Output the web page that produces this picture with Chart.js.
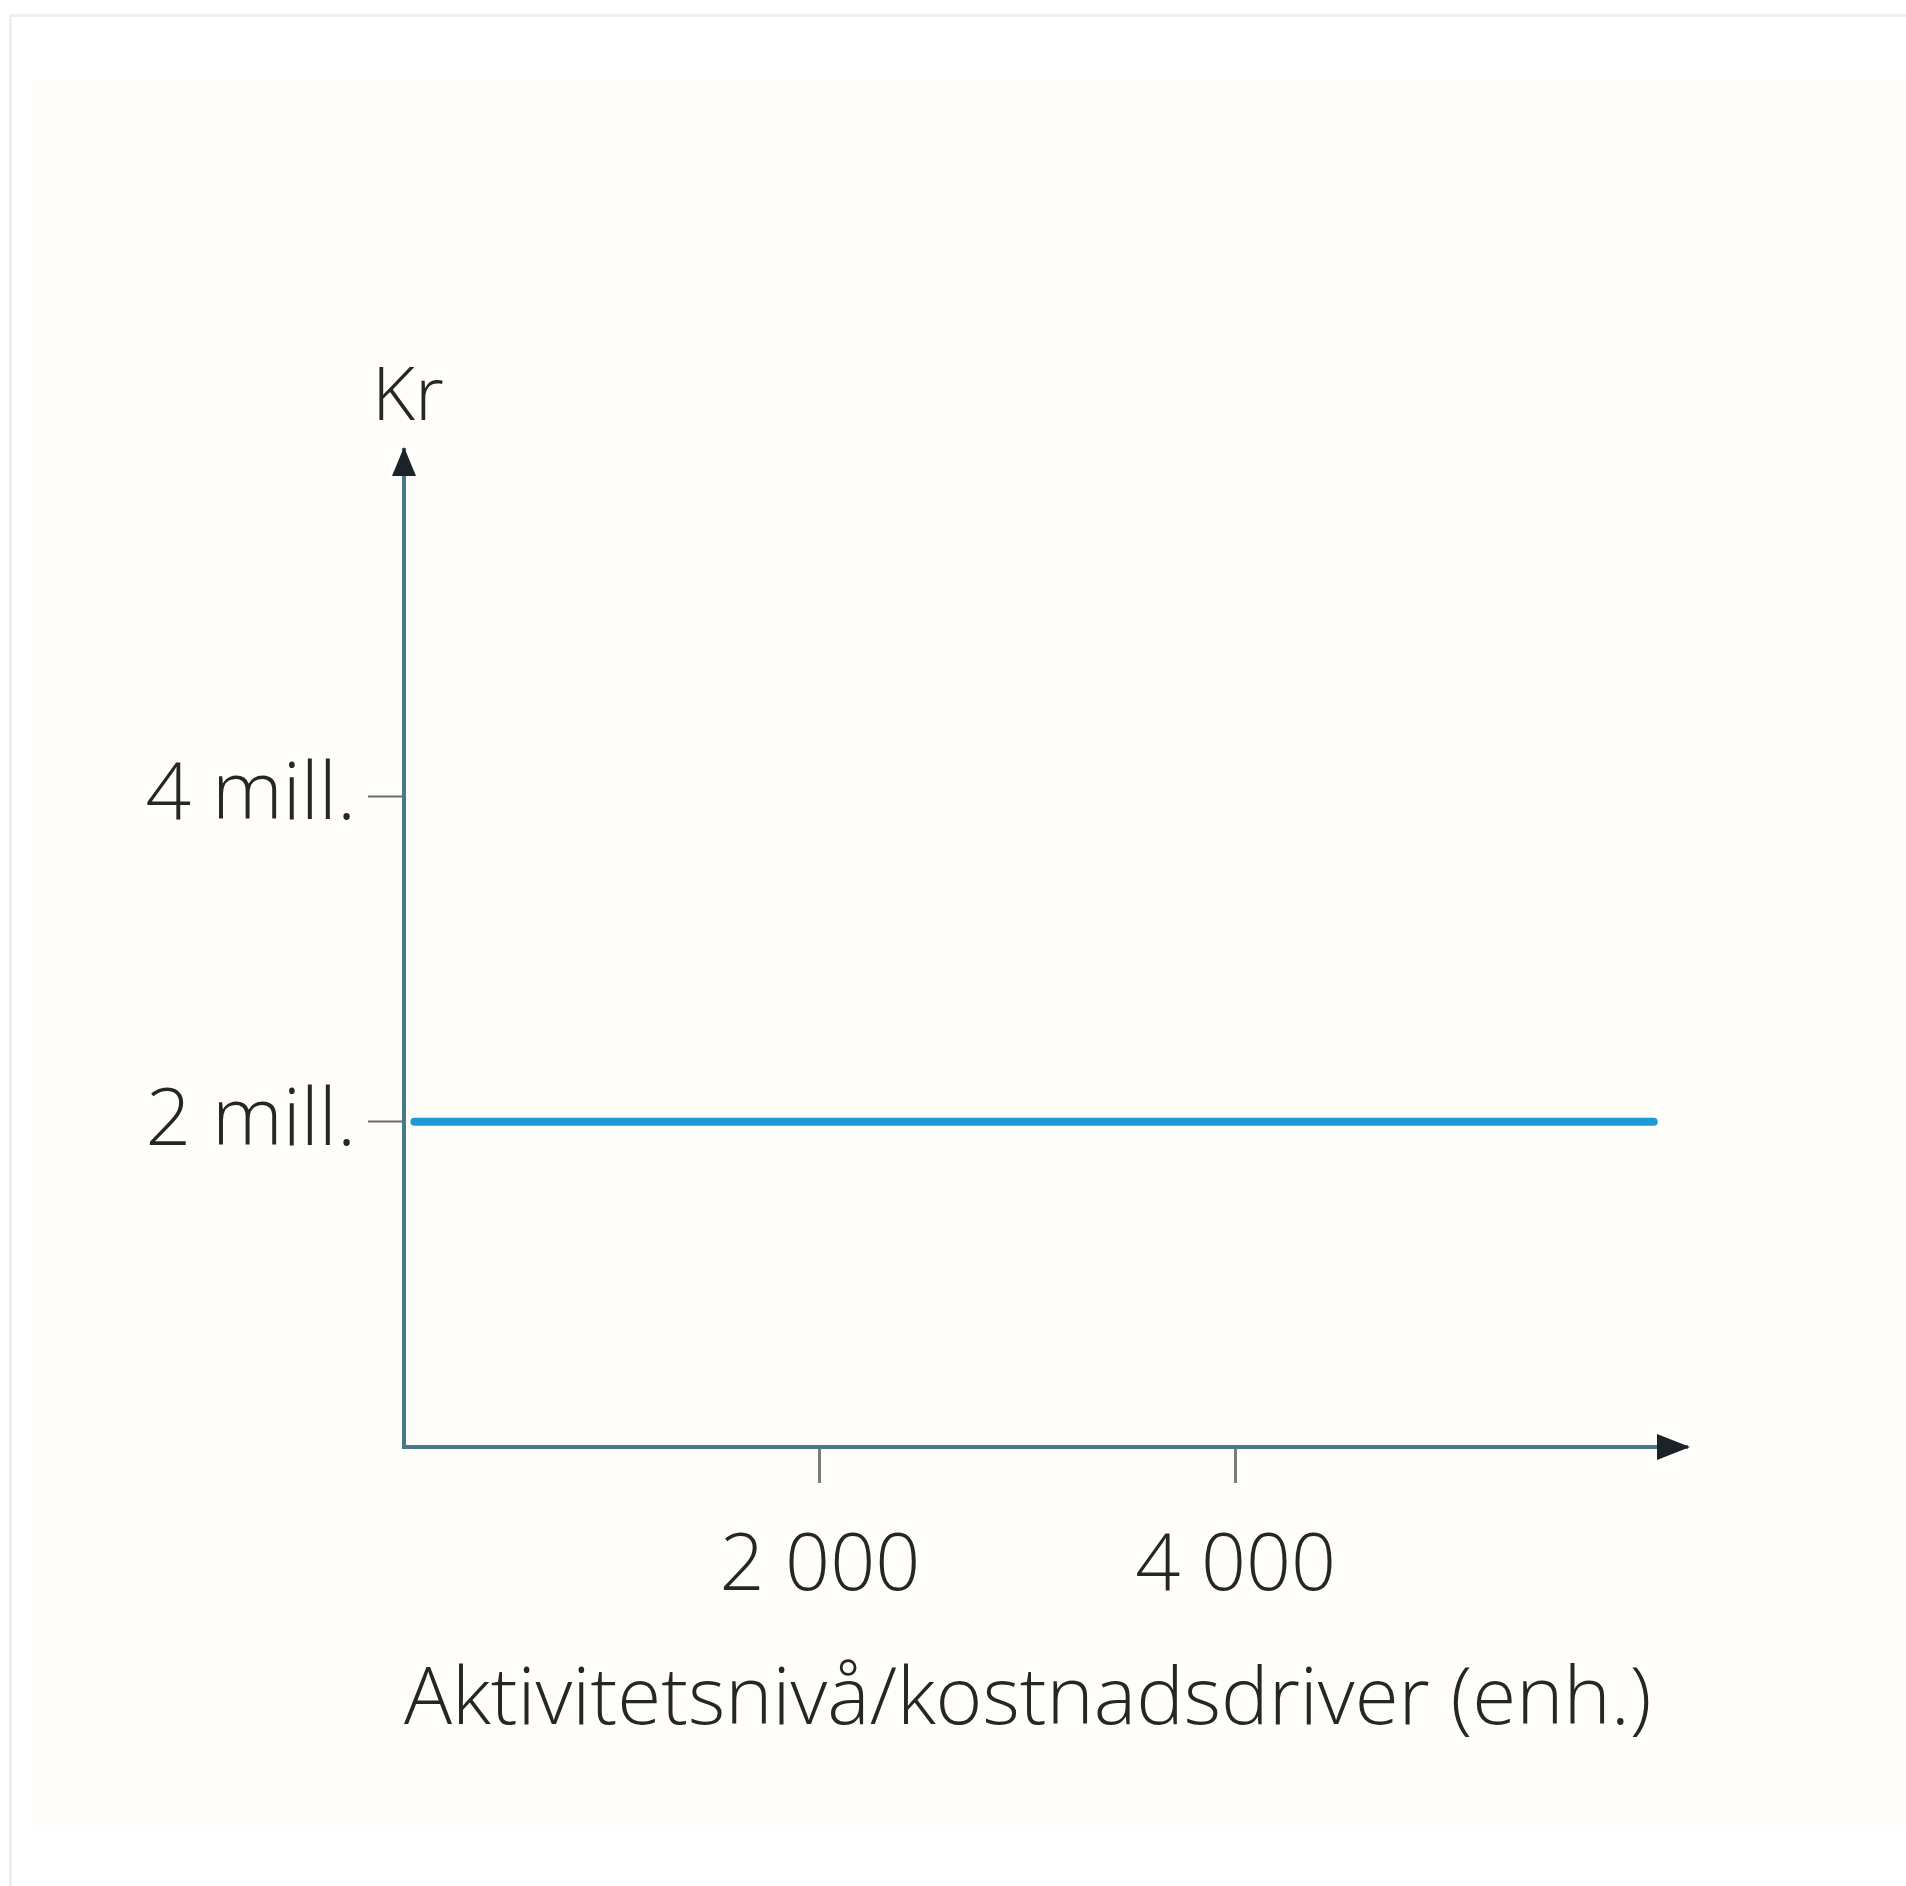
<!DOCTYPE html>
<html>
<head>
<meta charset="utf-8">
<script src="https://cdn.jsdelivr.net/npm/chart.js@4.4.1/dist/chart.umd.min.js"></script>
<style>
  html, body { margin: 0; padding: 0; background: #ffffff; }
  #page { position: relative; width: 1906px; height: 1886px; overflow: hidden; }
  #frameTop { position: absolute; left: 10px; top: 14px; width: 1896px; height: 3px; background: #efefef; }
  #frameLeft { position: absolute; left: 9px; top: 14px; width: 3px; height: 1872px; background: #efefef; }
  #paper { position: absolute; left: 31px; top: 80px; width: 1875px; height: 1750px; background: #fffdf9; }
  #chart { position: absolute; left: 0; top: 0; }
</style>
</head>
<body>
<div id="page">
  <div id="frameTop"></div>
  <div id="frameLeft"></div>
  <div id="paper"></div>
  <canvas id="chart" width="1906" height="1886"></canvas>
</div>
<script>
// fixed cost line: 2 mill. kr across the activity range
const activity = [50, 6010];
const cost = [2000000, 2000000];
const xTicks = [2000, 4000];
const yTicks = [2000000, 4000000];
const xTitle = 'Aktivitetsnivå/kostnadsdriver (enh.)';
const yTitle = 'Kr';

const FONT = '"Open Sans", "DejaVu Sans", sans-serif';
const AXIS = '#4a7889';
const INK = '#262626';

const arrows = {
    id: 'arrows',
    afterDraw(chart) {
        const ctx = chart.ctx;
        const a = chart.chartArea;
        ctx.save();
        ctx.fillStyle = '#1c2328';
        // y arrow
        ctx.beginPath();
        ctx.moveTo(a.left, a.top - 3);
        ctx.lineTo(a.left - 12, a.top + 26);
        ctx.lineTo(a.left + 12, a.top + 26);
        ctx.closePath();
        ctx.fill();
        // x arrow
        ctx.beginPath();
        ctx.moveTo(a.right + 3, a.bottom);
        ctx.lineTo(a.right - 30, a.bottom - 13);
        ctx.lineTo(a.right - 30, a.bottom + 13);
        ctx.closePath();
        ctx.fill();
        // y title above the arrow
        ctx.fillStyle = INK;
        ctx.font = '300 74px ' + FONT;
        ctx.textAlign = 'center';
        ctx.textBaseline = 'alphabetic';
        ctx.fillText(yTitle, a.left + 4, a.top - 30);
        ctx.restore();
    }
};

new Chart(document.getElementById('chart'), {
    type: 'line',
    data: {
        datasets: [{
            data: activity.map((x, i) => ({ x: x, y: cost[i] })),
            borderColor: '#1b9ad5',
            borderWidth: 8,
            borderCapStyle: 'round',
            pointRadius: 0,
            fill: false
        }]
    },
    options: {
        responsive: false,
        animation: false,
        events: [],
        layout: { padding: { left: 0, top: 450, right: 219, bottom: 0 } },
        plugins: { legend: { display: false }, tooltip: { enabled: false } },
        scales: {
            x: {
                type: 'linear',
                min: 0,
                max: 6170,
                afterFit(scale) { scale.height = 1886 - 1447; },
                afterBuildTicks(scale) { scale.ticks = xTicks.map(v => ({ value: v })); },
                border: { display: true, color: AXIS, width: 4 },
                grid: { drawOnChartArea: false, drawTicks: true, tickLength: 36, tickColor: '#7a7a7a', tickWidth: 3 },
                ticks: {
                    color: INK,
                    padding: 37,
                    font: { family: FONT, size: 79, weight: '300' },
                    callback: v => String(v).replace(/\B(?=(\d{3})+(?!\d))/g, ' ')
                },
                title: {
                    display: true,
                    align: 'start',
                    text: xTitle,
                    color: INK,
                    font: { family: FONT, size: 80, weight: '300' },
                    padding: { top: 0, bottom: 137 }
                }
            },
            y: {
                type: 'linear',
                min: 0,
                max: 6130000,
                afterFit(scale) { scale.width = 404; },
                afterBuildTicks(scale) { scale.ticks = yTicks.map(v => ({ value: v })); },
                border: { display: true, color: AXIS, width: 4 },
                grid: { drawOnChartArea: false, drawTicks: true, tickLength: 36, tickColor: '#6a6a6a', tickWidth: 2 },
                ticks: {
                    color: INK,
                    padding: 12,
                    font: { family: FONT, size: 80, weight: '300' },
                    callback: v => (v / 1000000) + ' mill.'
                }
            }
        }
    },
    plugins: [arrows]
});
</script>
</body>
</html>
